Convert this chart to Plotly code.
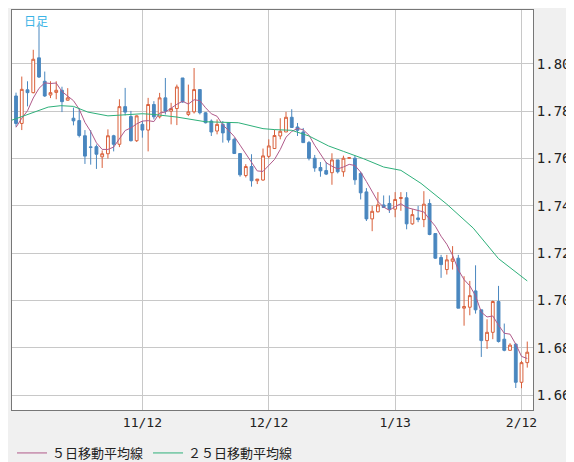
import pandas as pd
import plotly.graph_objs as go

OPEN = [1.7864, 1.7748, 1.7890, 1.7878, 1.8025, 1.7926, 1.7868, 1.7879, 1.7888, 1.7846,
        1.7770, 1.7760, 1.7696, 1.7649, 1.7650, 1.7607, 1.7620, 1.7696, 1.7660, 1.7819,
        1.7777, 1.7675, 1.7744, 1.7720, 1.7828, 1.7776, 1.7856, 1.7800, 1.7811, 1.7940,
        1.7786, 1.7797, 1.7891, 1.7793, 1.7758, 1.7716, 1.7744, 1.7751, 1.7681, 1.7621,
        1.7528, 1.7566, 1.7506, 1.7509, 1.7609, 1.7642, 1.7695, 1.7712, 1.7774, 1.7733,
        1.7712, 1.7667, 1.7601, 1.7562, 1.7549, 1.7540, 1.7594, 1.7544, 1.7601, 1.7601,
        1.7537, 1.7459, 1.7345, 1.7375, 1.7404, 1.7410, 1.7386, 1.7431, 1.7434, 1.7324,
        1.7349, 1.7342, 1.7410, 1.7283, 1.7182, 1.7131, 1.7166, 1.7179, 1.6968, 1.6972,
        1.7041, 1.6961, 1.6831, 1.6866, 1.6996, 1.6837, 1.6790, 1.6816, 1.6655, 1.6738]
HIGH = [1.7878, 1.7946, 1.7926, 1.8059, 1.8163, 1.7967, 1.7926, 1.7926, 1.7903, 1.7897,
        1.7815, 1.7812, 1.7720, 1.7720, 1.7659, 1.7634, 1.7723, 1.7700, 1.7850, 1.7898,
        1.7801, 1.7782, 1.7758, 1.7856, 1.7842, 1.7877, 1.7940, 1.7835, 1.7912, 1.7940,
        1.7912, 1.7982, 1.7891, 1.7796, 1.7765, 1.7765, 1.7758, 1.7751, 1.7688, 1.7621,
        1.7576, 1.7618, 1.7513, 1.7642, 1.7681, 1.7722, 1.7770, 1.7797, 1.7808, 1.7750,
        1.7729, 1.7674, 1.7615, 1.7585, 1.7585, 1.7622, 1.7594, 1.7612, 1.7605, 1.7612,
        1.7544, 1.7475, 1.7400, 1.7458, 1.7444, 1.7444, 1.7458, 1.7458, 1.7458, 1.7386,
        1.7400, 1.7462, 1.7428, 1.7283, 1.7193, 1.7193, 1.7230, 1.7193, 1.7103, 1.7083,
        1.7149, 1.6961, 1.6921, 1.7000, 1.7062, 1.6903, 1.6820, 1.6820, 1.6745, 1.6827]
LOW = [1.7734, 1.7720, 1.7820, 1.7875, 1.7940, 1.7860, 1.7855, 1.7850, 1.7796, 1.7844,
       1.7740, 1.7689, 1.7577, 1.7574, 1.7556, 1.7560, 1.7600, 1.7630, 1.7648, 1.7782,
       1.7672, 1.7670, 1.7688, 1.7630, 1.7765, 1.7769, 1.7786, 1.7744, 1.7741, 1.7835,
       1.7779, 1.7790, 1.7786, 1.7748, 1.7695, 1.7702, 1.7667, 1.7667, 1.7620, 1.7523,
       1.7520, 1.7481, 1.7492, 1.7506, 1.7600, 1.7640, 1.7681, 1.7712, 1.7729, 1.7695,
       1.7667, 1.7592, 1.7544, 1.7523, 1.7530, 1.7489, 1.7537, 1.7523, 1.7599, 1.7489,
       1.7427, 1.7336, 1.7293, 1.7372, 1.7393, 1.7370, 1.7352, 1.7379, 1.7301, 1.7320,
       1.7331, 1.7310, 1.7276, 1.7176, 1.7096, 1.7110, 1.7131, 1.6968, 1.6894, 1.6938,
       1.6945, 1.6762, 1.6796, 1.6837, 1.6823, 1.6786, 1.6790, 1.6631, 1.6630, 1.6717]
CLOSE = [1.7748, 1.7892, 1.7878, 1.8019, 1.7944, 1.7864, 1.7878, 1.7888, 1.7840, 1.7856,
         1.7759, 1.7697, 1.7610, 1.7647, 1.7618, 1.7620, 1.7696, 1.7660, 1.7819, 1.7796,
         1.7675, 1.7780, 1.7720, 1.7828, 1.7776, 1.7856, 1.7800, 1.7811, 1.7902, 1.7839,
         1.7797, 1.7891, 1.7793, 1.7751, 1.7712, 1.7744, 1.7708, 1.7678, 1.7621, 1.7531,
         1.7566, 1.7506, 1.7513, 1.7611, 1.7653, 1.7697, 1.7715, 1.7774, 1.7731, 1.7719,
         1.7667, 1.7601, 1.7560, 1.7548, 1.7534, 1.7594, 1.7544, 1.7601, 1.7603, 1.7510,
         1.7455, 1.7345, 1.7377, 1.7404, 1.7393, 1.7386, 1.7427, 1.7435, 1.7324, 1.7363,
         1.7342, 1.7407, 1.7279, 1.7179, 1.7152, 1.7172, 1.7176, 1.6968, 1.6975, 1.7021,
         1.6961, 1.6831, 1.6866, 1.6996, 1.6827, 1.6790, 1.6812, 1.6655, 1.6738, 1.6782]
PRE_CLOSE = [1.770, 1.772, 1.775, 1.774]

MA25_IDX = [-0.7, 3, 5.6, 7.8, 10, 12.5, 16, 22, 24, 28, 33, 38.7, 43, 45, 48, 51,
            54.4, 57, 60.5, 64, 67, 70.5, 75, 79.6, 84, 89]
MA25 = [1.7762, 1.7796, 1.7817, 1.7823, 1.7820, 1.7796, 1.7780, 1.7789, 1.7786, 1.7775,
        1.7755, 1.7751, 1.7726, 1.7722, 1.7719, 1.7695, 1.7653, 1.7630, 1.7599, 1.7564,
        1.7550, 1.7495, 1.7407, 1.7306, 1.7177, 1.7083]

TICK_IDX = [22, 44, 66, 88]
TICK_TEXT = ['11/12', '12/12', '1/13', '2/12']

FONT = 'DejaVu Sans Mono'
CJK = 'Noto Sans CJK JP'

idx = list(range(len(CLOSE)))
closes = pd.Series(PRE_CLOSE + CLOSE)
ma5 = closes.rolling(5).mean().iloc[len(PRE_CLOSE):].tolist()

fig = go.Figure([
    go.Candlestick(
        x=idx, open=OPEN, high=HIGH, low=LOW, close=CLOSE,
        increasing=dict(line=dict(color='#d9603b', width=1), fillcolor='#ffffff'),
        decreasing=dict(line=dict(color='#4a87bf', width=1), fillcolor='#4a87bf'),
        whiskerwidth=0,
        showlegend=False,
        hoverinfo='skip',
    ),
    go.Scatter(
        name='５日移動平均線', x=idx, y=ma5, mode='lines',
        line=dict(color='#b05a8a', width=1),
    ),
    go.Scatter(
        name='２５日移動平均線', x=MA25_IDX, y=MA25, mode='lines',
        line=dict(color='#2eb07a', width=1),
    ),
])

fig.update_layout(
    width=574, height=462,
    margin=dict(l=4, r=49, t=2, b=50),
    paper_bgcolor='#f0f0f0',
    plot_bgcolor='#ffffff',
    font=dict(family=FONT, size=13, color='#222'),
    xaxis=dict(
        range=[-0.7, 90.0],
        tickvals=TICK_IDX, ticktext=TICK_TEXT,
        showgrid=True, gridcolor='#c8c8c8',
        showline=True, linecolor='#777', mirror=True,
        rangeslider=dict(visible=False),
        ticks='', zeroline=False,
    ),
    yaxis=dict(
        side='right',
        range=[1.6538, 1.8227],
        tickvals=[1.66, 1.68, 1.70, 1.72, 1.74, 1.76, 1.78, 1.80],
        tickformat='.2f',
        showgrid=True, gridcolor='#c8c8c8',
        showline=True, linecolor='#777', mirror=True,
        ticks='', zeroline=False,
        tickfont=dict(size=14),
    ),
    legend=dict(
        orientation='h', x=0.0, y=-0.07, xanchor='left', yanchor='top',
        font=dict(family=CJK, size=13, color='#222'),
        bgcolor='rgba(0,0,0,0)',
    ),
    annotations=[dict(
        text='日足', x=0.02, y=1.0, xref='paper', yref='paper',
        xanchor='left', yanchor='top', showarrow=False,
        font=dict(family=CJK, size=12, color='#3cb4e6'),
    )],
)

fig.write_html('out.html')
